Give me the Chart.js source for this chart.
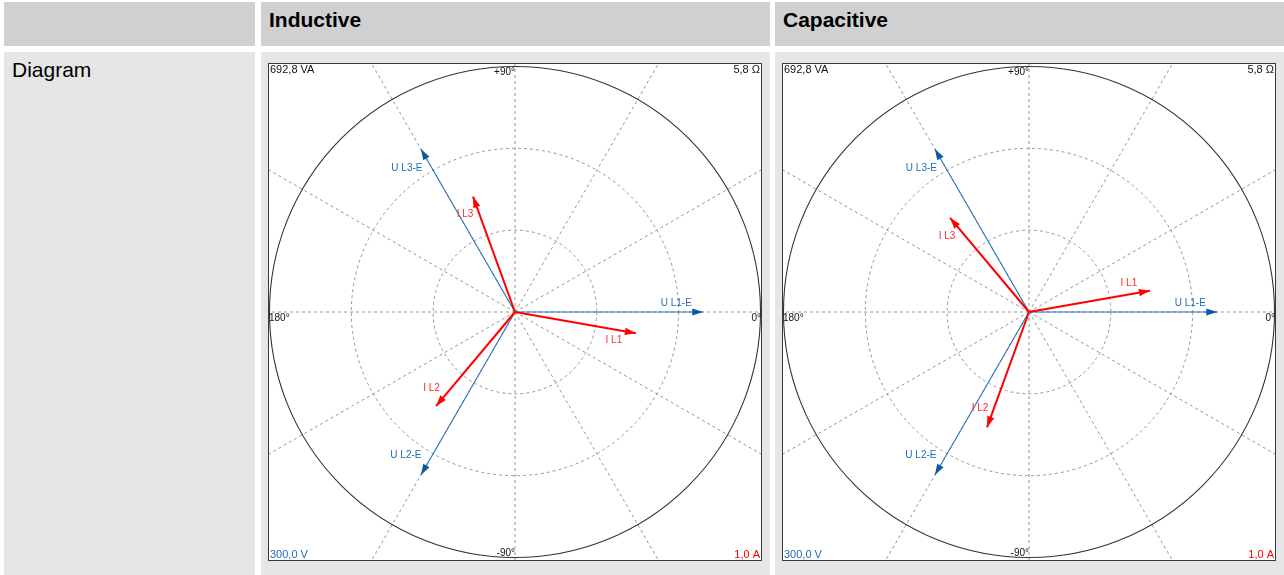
<!DOCTYPE html>
<html>
<head>
<meta charset="utf-8">
<script src="https://cdn.jsdelivr.net/npm/chart.js@4/dist/chart.umd.min.js"></script>
<style>
  html, body { margin: 0; padding: 0; }
  body {
    width: 1284px; height: 575px; overflow: hidden; position: relative;
    background: #ffffff; font-family: "Liberation Sans", Arial, sans-serif; color: #000;
  }
  .cell { position: absolute; box-sizing: border-box; }
  .head { top: 2px; height: 44px; background: #d0d0d0; font-weight: bold;
          font-size: 21px; line-height: 21px; padding: 7px 0 0 8px; }
  .body { top: 52px; height: 530px; background: #e6e6e6;
          font-size: 21px; line-height: 21px; padding: 7px 0 0 8px; }
  canvas { position: absolute; top: 63px; }
</style>
</head>
<body>
<div class="cell head" style="left:4px;width:251px"></div>
<div class="cell head" id="title0" style="left:261px;width:509px"></div>
<div class="cell head" id="title1" style="left:775px;width:515px"></div>
<div class="cell body" id="rowTitle" style="left:4px;width:251px"></div>
<div class="cell body" style="left:261px;width:509px"></div>
<div class="cell body" style="left:775px;width:515px"></div>
<canvas id="phasor0" width="494" height="498" style="left:268px"></canvas>
<canvas id="phasor1" width="494" height="498" style="left:782px"></canvas>

<script>
// ---- table text ----
const panelTitles = ['Inductive', 'Capacitive'];
const rowTitle = 'Diagram';

// ---- phasor values ----
const voltageNames = ['U L1-E', 'U L2-E', 'U L3-E'];
const currentNames = ['I L1', 'I L2', 'I L3'];
const voltageMagnitude = [230, 230, 230];      // V
const voltageAngle = [0, -120, 120];           // degrees
const inductiveCurrent = [0.5, 0.5, 0.5];      // A
const inductiveAngle = [-10, -130, 110];       // degrees
const capacitiveCurrent = [0.5, 0.5, 0.5];     // A
const capacitiveAngle = [10, -110, 130];       // degrees

// full-scale values at the outer ring
const voltageFullScale = 300;
const currentFullScale = 1.0;

// ring / spoke grid and scale annotations
const ringFractions = [1 / 3, 2 / 3];
const spokeAngles = [0, 30, 60, 90, 120, 150, 180, 210, 240, 270, 300, 330];
const angleTickLabels = ['0°', '+90°', '180°', '-90°'];
const cornerLabels = ['692,8 VA', '5,8 Ω', '300,0 V', '1,0 A'];

// ---- styling ----
const BLUE = '#2b74bd';
const BLUE_HEAD = '#0b5aa8';
const BLUE_TEXT = '#1f6cb8';
const RED = '#ff0000';
const RED_TEXT = '#ff2a2a';
const SMALL_FONT = '"Liberation Sans", Arial, sans-serif';

// label placement relative to each arrow tip (px, text centre)
const labelOffsets = [
  { 'U L1-E': [-27, -9], 'U L2-E': [-15, -20], 'U L3-E': [-14, 19],
    'I L1': [-22, 7], 'I L2': [-4.5, -18], 'I L3': [-8, 18] },
  { 'U L1-E': [-27, -9], 'U L2-E': [-14, -20], 'U L3-E': [-13.5, 19],
    'I L1': [-21, -7], 'I L2': [-7, -19], 'I L3': [-3, 18] }
];

document.getElementById('title0').textContent = panelTitles[0];
document.getElementById('title1').textContent = panelTitles[1];
document.getElementById('rowTitle').textContent = rowTitle;

function polar(mag, deg, full) {
  const r = mag / full, a = deg * Math.PI / 180;
  return { x: r * Math.cos(a), y: r * Math.sin(a) };
}

function buildDatasets(curMag, curAng) {
  const sets = [];
  currentNames.forEach((n, i) => sets.push({
    label: n, kind: 'I', order: 0,
    data: [{ x: 0, y: 0 }, polar(curMag[i], curAng[i], currentFullScale)],
    borderColor: RED, borderWidth: 2, showLine: true, pointRadius: 0
  }));
  voltageNames.forEach((n, i) => sets.push({
    label: n, kind: 'U', order: 1,
    data: [{ x: 0, y: 0 }, polar(voltageMagnitude[i], voltageAngle[i], voltageFullScale)],
    borderColor: BLUE, borderWidth: 1.1, showLine: true, pointRadius: 0
  }));
  return sets;
}

const phasorPlugin = {
  id: 'phasorGrid',
  beforeDraw(chart) {
    const { ctx, width, height } = chart;
    ctx.save();
    ctx.fillStyle = '#ffffff';
    ctx.fillRect(0, 0, width, height);
    ctx.restore();
  },
  beforeDatasetsDraw(chart) {
    const { ctx, chartArea: ca, scales } = chart;
    const cx = scales.x.getPixelForValue(0);
    const cy = scales.y.getPixelForValue(0);
    const R = scales.x.getPixelForValue(1) - cx;
    ctx.save();
    ctx.beginPath();
    ctx.rect(ca.left, ca.top, ca.right - ca.left, ca.bottom - ca.top);
    ctx.clip();

    // dashed spokes to the frame edge
    ctx.strokeStyle = '#969696';
    ctx.lineWidth = 1;
    ctx.setLineDash([3, 3]);
    spokeAngles.forEach(d => {
      const a = d * Math.PI / 180;
      ctx.beginPath();
      ctx.moveTo(cx, cy);
      ctx.lineTo(cx + Math.cos(a) * 800, cy - Math.sin(a) * 800);
      ctx.stroke();
    });
    // dashed inner rings
    ringFractions.forEach(f => {
      ctx.beginPath();
      ctx.arc(cx, cy, R * f, 0, Math.PI * 2);
      ctx.stroke();
    });
    // solid outer ring
    ctx.setLineDash([]);
    ctx.strokeStyle = '#333333';
    ctx.lineWidth = 1.1;
    ctx.beginPath();
    ctx.arc(cx, cy, R, 0, Math.PI * 2);
    ctx.stroke();

    // angle annotations
    ctx.fillStyle = '#111111';
    ctx.font = '10px ' + SMALL_FONT;
    ctx.textBaseline = 'middle';
    ctx.textAlign = 'right';
    ctx.fillText(angleTickLabels[1], cx, ca.top + 9);
    ctx.fillText(angleTickLabels[3], cx, ca.bottom - 8);
    ctx.fillText(angleTickLabels[0], ca.right - 1, cy + 6);
    ctx.textAlign = 'left';
    ctx.fillText(angleTickLabels[2], ca.left + 1, cy + 6);

    // scale annotations in the corners
    ctx.font = '11px ' + SMALL_FONT;
    ctx.textAlign = 'left';
    ctx.fillStyle = '#111111';
    ctx.fillText(cornerLabels[0], ca.left + 2, ca.top + 7);
    ctx.fillStyle = BLUE_TEXT;
    ctx.fillText(cornerLabels[2], ca.left + 2, ca.bottom - 6);
    ctx.textAlign = 'right';
    ctx.fillStyle = '#111111';
    ctx.fillText(cornerLabels[1], ca.right - 2, ca.top + 7);
    ctx.fillStyle = RED;
    ctx.fillText(cornerLabels[3], ca.right - 2, ca.bottom - 6);
    ctx.restore();
  },
  afterDatasetsDraw(chart, args, opts) {
    const { ctx } = chart;
    const offsets = opts.offsets || {};
    const metas = chart.getSortedVisibleDatasetMetas().slice().reverse();
    ctx.save();
    metas.forEach(meta => {
      const ds = chart.data.datasets[meta.index];
      const p0 = meta.data[0], p1 = meta.data[1];
      const ang = Math.atan2(p1.y - p0.y, p1.x - p0.x);
      const L = 11, W = 3.6;
      const bx = p1.x - Math.cos(ang) * L, by = p1.y - Math.sin(ang) * L;
      const nx = -Math.sin(ang) * W, ny = Math.cos(ang) * W;
      ctx.fillStyle = ds.kind === 'U' ? BLUE_HEAD : RED;
      ctx.beginPath();
      ctx.moveTo(p1.x, p1.y);
      ctx.lineTo(bx + nx, by + ny);
      ctx.lineTo(bx - nx, by - ny);
      ctx.closePath();
      ctx.fill();

      const off = offsets[ds.label] || [0, 0];
      ctx.font = '10px ' + SMALL_FONT;
      ctx.textAlign = 'center';
      ctx.textBaseline = 'middle';
      ctx.fillStyle = ds.kind === 'U' ? BLUE_TEXT : RED_TEXT;
      ctx.fillText(ds.label, p1.x + off[0], p1.y + off[1]);
    });
    ctx.restore();
  },
  afterDraw(chart) {
    const { ctx, width, height } = chart;
    ctx.save();
    ctx.strokeStyle = '#3a3a3a';
    ctx.lineWidth = 1;
    ctx.strokeRect(0.5, 0.5, width - 1, height - 1);
    ctx.restore();
  }
};

function makeChart(id, datasets, offsets) {
  return new Chart(document.getElementById(id), {
    type: 'scatter',
    data: { datasets },
    options: {
      responsive: false,
      devicePixelRatio: 1,
      animation: false,
      layout: { padding: 0 },
      scales: {
        x: { type: 'linear', min: -1.006, max: 1.006, display: false },
        y: { type: 'linear', min: -1.014, max: 1.014, display: false }
      },
      plugins: {
        legend: { display: false },
        tooltip: { enabled: false },
        phasorGrid: { offsets }
      }
    },
    plugins: [phasorPlugin]
  });
}

makeChart('phasor0', buildDatasets(inductiveCurrent, inductiveAngle), labelOffsets[0]);
makeChart('phasor1', buildDatasets(capacitiveCurrent, capacitiveAngle), labelOffsets[1]);
</script>
</body>
</html>
